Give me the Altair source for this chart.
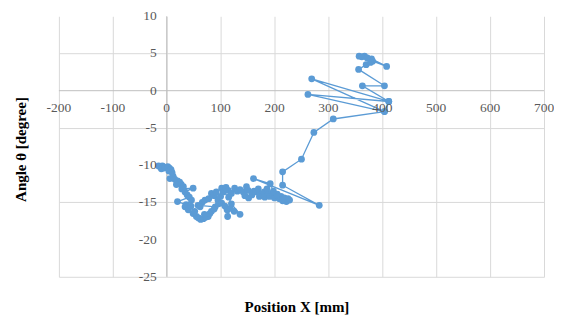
import altair as alt
import pandas as pd

# Trajectory (in drawing order)
POS_X = [-15, -12, -8, -5, -10, -3, 2, 5, 8, 4, 10, 6, 12, 15, 20, 24, 18, 27, 31, 28,
         49, 34, 38, 42, 20, 36, 46, 34, 40, 45, 49, 52, 55, 59, 63, 68, 72, 77, 70, 80,
         83, 88, 90, 58, 66, 71, 62, 78, 83, 88, 95, 92, 100, 102, 96, 102, 108, 112, 113, 118,
         125, 136, 120, 115, 105, 110, 114, 120, 126, 131, 136, 142, 148, 151, 145, 152, 158, 162, 166, 170,
         175, 172, 181, 186, 182, 188, 191, 195, 197, 200, 205, 209, 212, 215, 218, 222, 225, 228, 215, 205,
         198, 192, 161, 283, 215, 215, 250, 273, 309, 404, 262, 412, 269, 404, 412, 363, 404, 356, 370, 382,
         408, 380, 367, 357, 362, 372, 378]
ANGLE = [-10.1, -10.2, -10.1, -10.4, -10.5, -10.3, -10.2, -10.4, -10.6, -10.8, -11.0, -11.8, -11.5, -11.9, -12.1, -12.3, -12.6, -12.6, -12.9, -13.2,
         -13.1, -13.6, -14.0, -14.3, -14.9, -15.3, -14.7, -15.6, -16.0, -15.5, -16.5, -16.2, -16.9, -17.1, -17.3, -17.2, -17.0, -16.9, -16.6, -16.5,
         -16.2, -15.9, -15.6, -15.4, -15.0, -14.7, -15.6, -14.5, -13.8, -14.1, -14.7, -13.6, -14.2, -13.1, -15.2, -15.1, -15.5, -16.0, -16.9, -15.8,
         -16.2, -16.6, -15.2, -14.3, -13.6, -13.0, -13.4, -13.8, -13.1, -13.5, -13.3, -13.6, -12.9, -13.4, -14.1, -14.4, -14.0, -13.5, -13.6, -13.2,
         -13.9, -14.2, -13.6, -13.2, -14.3, -14.0, -14.2, -13.8, -14.0, -14.4, -14.1, -14.5, -14.2, -14.8, -14.4, -14.9, -14.5, -14.7, -14.6, -13.9,
         -13.5, -12.5, -11.8, -15.4, -12.7, -10.9, -9.2, -5.6, -3.8, -2.8, -0.5, -1.45, 1.6, -2.8, -1.45, 0.66, 0.66, 2.86, 3.5, 3.97,
         3.26, 4.27, 4.63, 4.63, 4.55, 4.4, 3.8]

X_TICKS = [-200, -100, 0, 100, 200, 300, 400, 500, 600, 700]
Y_TICKS = [10, 5, 0, -5, -10, -15, -20, -25]

X_TITLE = "Position X [mm]"
Y_TITLE = "Angle θ [degree]"

BLUE = "#5B9BD5"
FONT = "Liberation Serif"

df = pd.DataFrame({"i": list(range(len(POS_X))), "x": POS_X, "y": ANGLE})

xscale = alt.Scale(domain=[-200, 700], nice=False, zero=False)
yscale = alt.Scale(domain=[-25, 10], nice=False, zero=False)

xaxis = alt.Axis(values=X_TICKS, grid=True, gridColor="#d9d9d9", labels=False, ticks=False,
                 domain=False, title=X_TITLE, titleFont=FONT, titleFontSize=15,
                 titleFontWeight="bold", titleColor="#000000", titleX=238, titleY=30,
                 titleBaseline="middle", titleAlign="center")
yaxis = alt.Axis(values=Y_TICKS, grid=True, gridColor="#d9d9d9", labels=False, ticks=False,
                 domain=False, title=Y_TITLE, titleFont=FONT, titleFontSize=15,
                 titleFontWeight="bold", titleColor="#000000", titleX=-38, titleY=133,
                 titleAngle=-90, titleBaseline="middle", titleAlign="center")

base = alt.Chart(df)

line = base.mark_line(color=BLUE, strokeWidth=1.3).encode(
    x=alt.X("x:Q", scale=xscale, axis=xaxis),
    y=alt.Y("y:Q", scale=yscale, axis=yaxis),
    order="i:Q",
)
points = base.mark_circle(color=BLUE, size=46, opacity=1).encode(
    x=alt.X("x:Q", scale=xscale),
    y=alt.Y("y:Q", scale=yscale),
)

zero_df = pd.DataFrame({"v": [0]})
vrule = alt.Chart(zero_df).mark_rule(color="#bfbfbf", strokeWidth=1).encode(
    x=alt.X("v:Q", scale=xscale))
hrule = alt.Chart(zero_df).mark_rule(color="#bfbfbf", strokeWidth=1).encode(
    y=alt.Y("v:Q", scale=yscale))

xlab_df = pd.DataFrame({"v": X_TICKS, "z": [0] * len(X_TICKS),
                        "t": [str(v) for v in X_TICKS]})
ylab_df = pd.DataFrame({"v": Y_TICKS, "z": [0] * len(Y_TICKS),
                        "t": [str(v) for v in Y_TICKS]})

xlabels = alt.Chart(xlab_df).mark_text(font=FONT, fontSize=13.5, color="#595959",
                                       align="center", baseline="middle", dy=17).encode(
    x=alt.X("v:Q", scale=xscale), y=alt.Y("z:Q", scale=yscale), text="t:N")
ylabels = alt.Chart(ylab_df).mark_text(font=FONT, fontSize=13.5, color="#595959",
                                       align="right", baseline="middle", dx=-10).encode(
    x=alt.X("z:Q", scale=xscale), y=alt.Y("v:Q", scale=yscale), text="t:N")

chart = alt.layer(vrule, hrule, line, points, xlabels, ylabels).properties(
    width=486, height=261,
    autosize=alt.AutoSizeParams(type="none"),
    padding={"left": 51, "top": 8, "right": 10, "bottom": 40},
).configure_view(strokeWidth=0)

chart.save("out.html", embed_options={"renderer": "svg", "actions": False})
